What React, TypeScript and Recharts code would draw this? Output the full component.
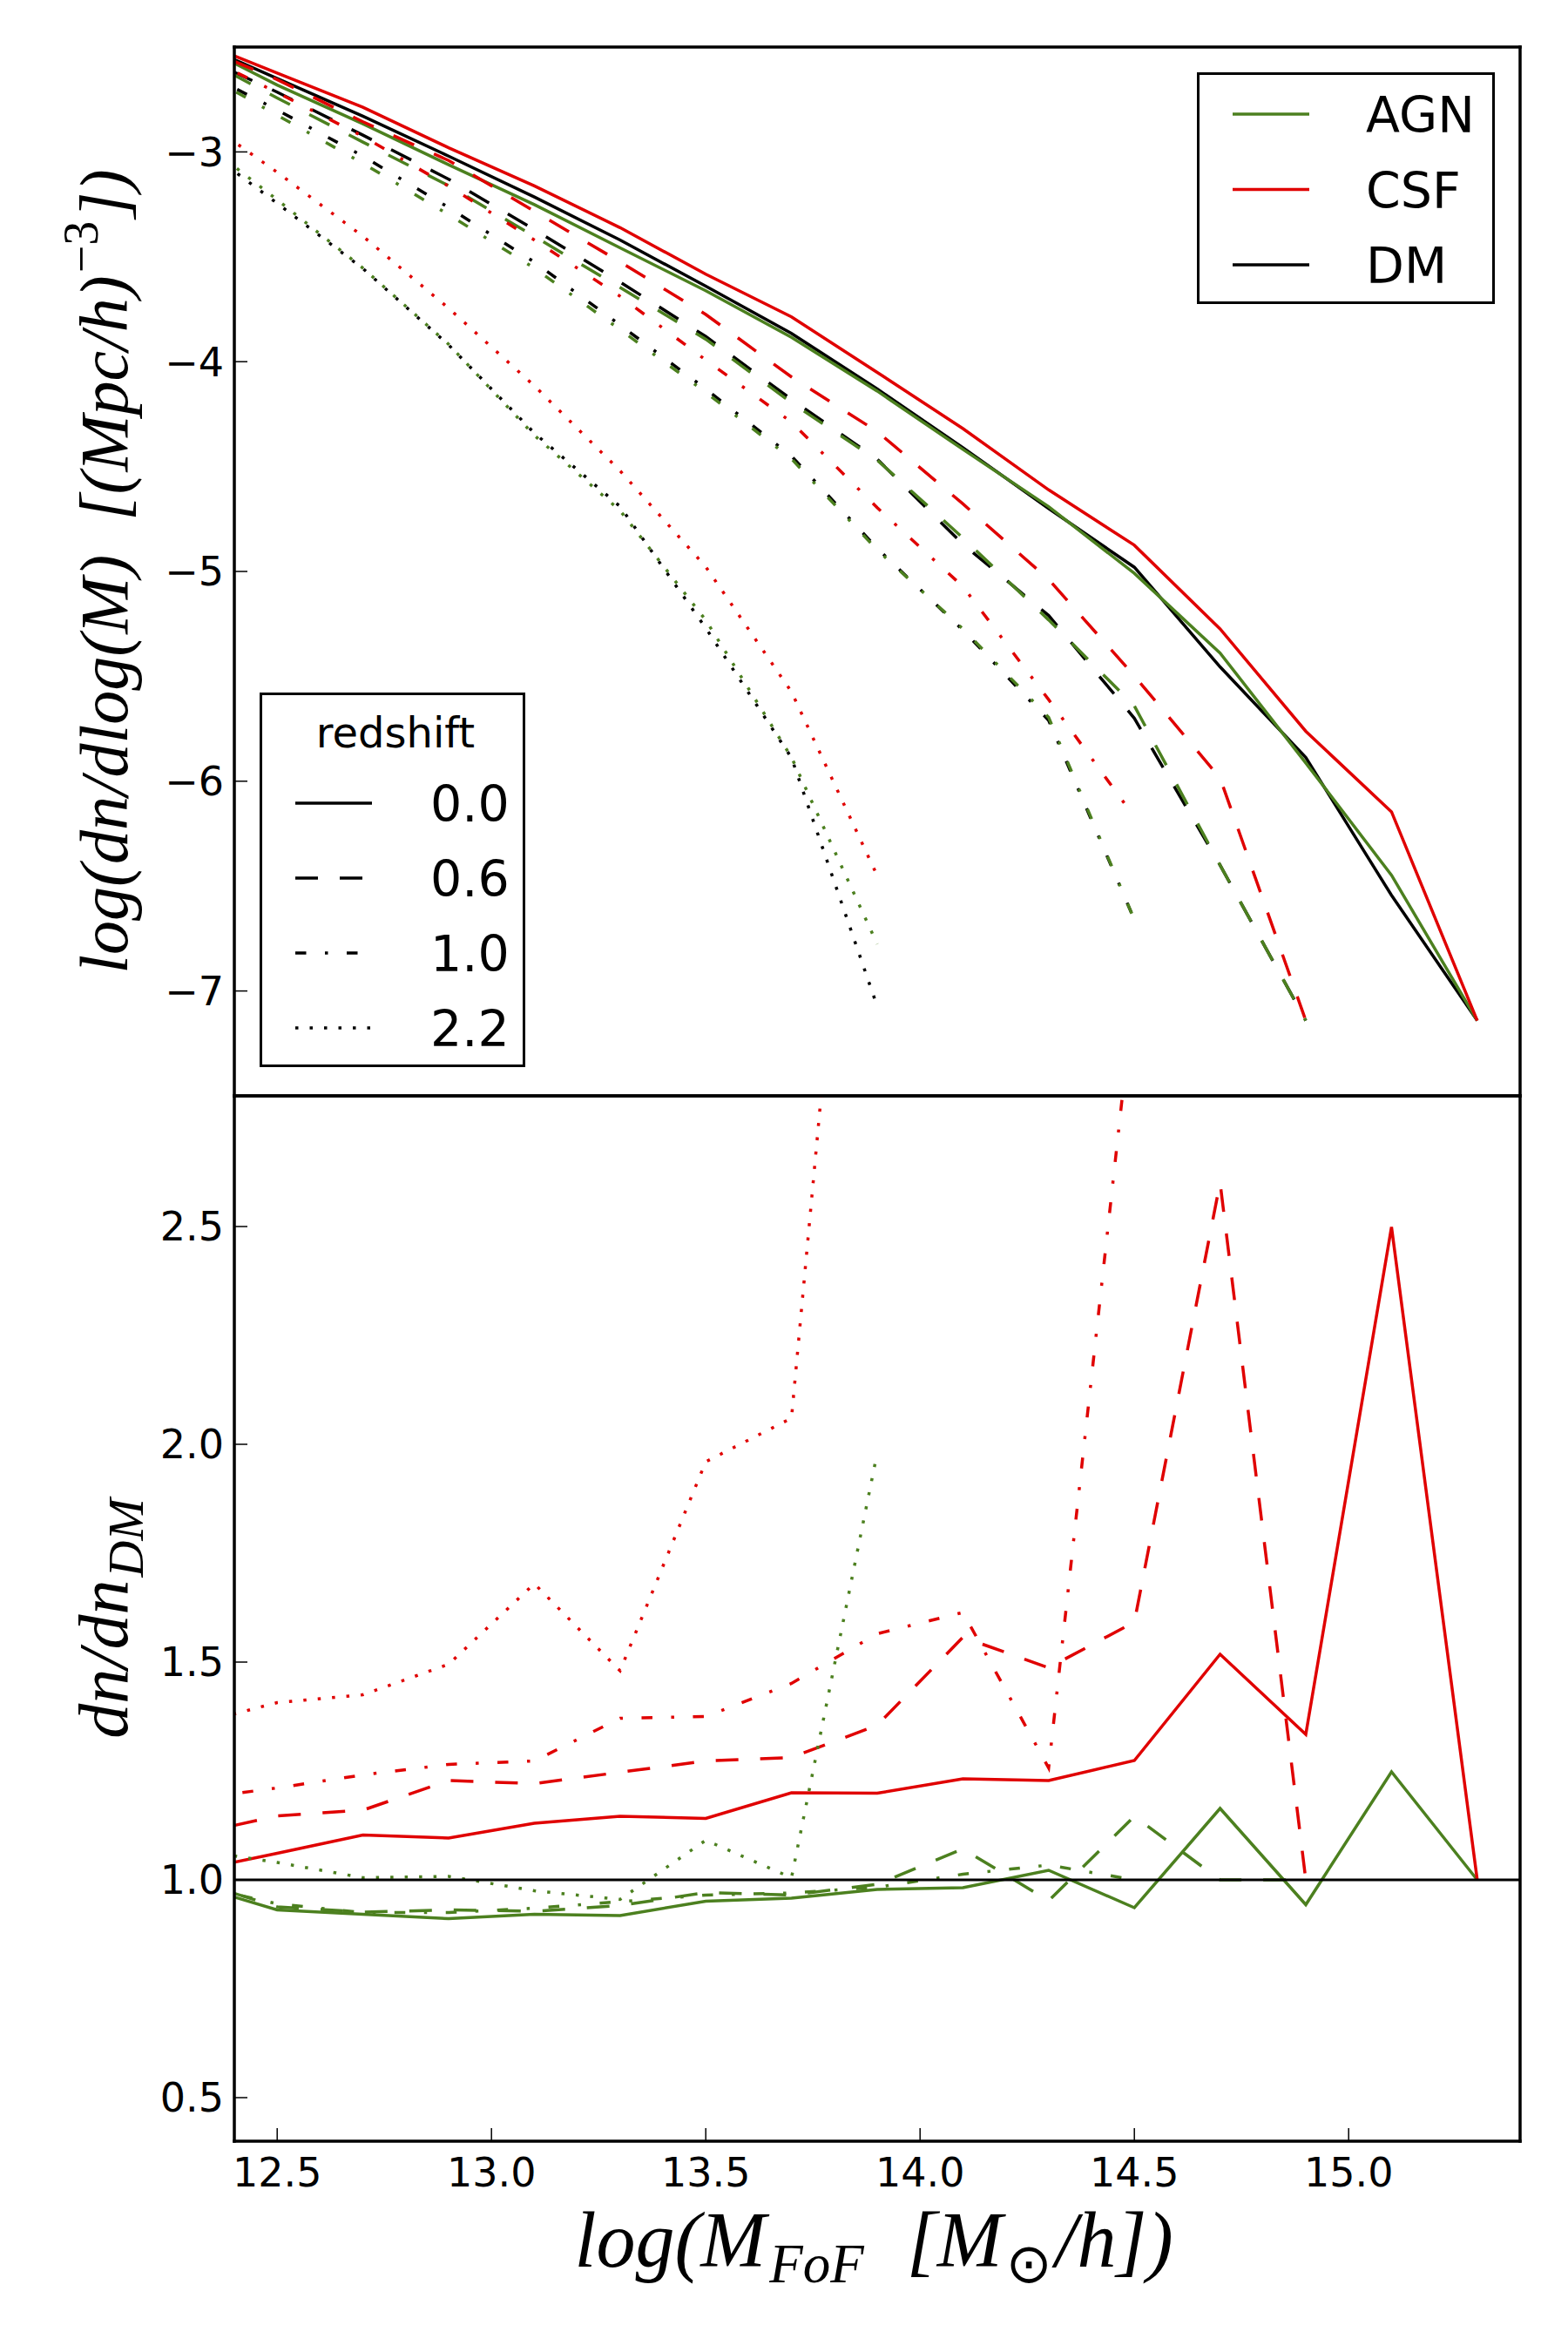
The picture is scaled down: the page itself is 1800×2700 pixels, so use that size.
import React from 'react'
import { LineChart, Line, XAxis, YAxis, ReferenceLine, Legend } from 'recharts'

// halo mass bins, log(M_FoF [Msun/h])
const masses = [12.3, 12.5, 12.7, 12.9, 13.1, 13.3, 13.5, 13.7, 13.9, 14.1, 14.3, 14.5, 14.7, 14.9, 15.1, 15.3]
const massTicks = [12.5, 13.0, 13.5, 14.0, 14.5, 15.0]
const mfTicks = [-7, -6, -5, -4, -3]
const ratioTicks = [0.5, 1.0, 1.5, 2.0, 2.5]

const models = ['AGN', 'CSF', 'DM']
const redshifts = ['0.0', '0.6', '1.0', '2.2']

// upper panel: log(dn/dlog M)
const dmZ0 = [-2.47, -2.65, -2.83, -3.02, -3.215, -3.42, -3.64, -3.865, -4.13, -4.41, -4.7, -4.98, -5.455, -5.887, -6.544, -7.141]
const agnZ0 = [-2.474, -2.681, -2.866, -3.061, -3.251, -3.457, -3.662, -3.884, -4.14, -4.418, -4.691, -5.009, -5.389, -5.913, -6.448, -7.141]
const csfZ0 = [-2.461, -2.624, -2.787, -2.98, -3.162, -3.361, -3.583, -3.786, -4.051, -4.319, -4.611, -4.875, -5.274, -5.762, -6.146, -7.141]

const dmZ06 = [-2.525, -2.715, -2.92, -3.13, -3.37, -3.62, -3.88, -4.18, -4.465, -4.87, -5.21, -5.7, -6.4, -7.141]
const agnZ06 = [-2.525, -2.743, -2.953, -3.161, -3.403, -3.646, -3.893, -4.196, -4.469, -4.84, -5.231, -5.641, -6.4, -7.141]
const csfZ06 = [-2.482, -2.655, -2.856, -3.041, -3.283, -3.524, -3.775, -4.073, -4.333, -4.678, -5.038, -5.498, -5.985, -7.141]

const dmZ1 = [-2.59, -2.8, -3.02, -3.265, -3.525, -3.825, -4.13, -4.45, -4.89, -5.28, -5.71, -6.66]
const agnZ1 = [-2.594, -2.825, -3.054, -3.299, -3.554, -3.847, -4.146, -4.463, -4.897, -5.274, -5.696, -6.66]
const csfZ1 = [-2.516, -2.717, -2.926, -3.163, -3.42, -3.688, -3.992, -4.288, -4.696, -5.072, -5.611, -6.17]

const dmZ22 = [-2.94, -3.245, -3.556, -3.92, -4.34, -4.69, -5.27, -5.888, -7.073]
const agnZ22 = [-2.911, -3.228, -3.554, -3.917, -4.351, -4.71, -5.232, -5.886, -6.776]
const csfZ22 = [-2.808, -3.097, -3.402, -3.745, -4.115, -4.52, -4.978, -5.574, -6.45]

// lower panel: dn/dn_DM
const agnRatioZ0 = [0.99, 0.931, 0.921, 0.911, 0.921, 0.918, 0.951, 0.958, 0.978, 0.982, 1.022, 0.936, 1.164, 0.943, 1.248, 1.0]
const csfRatioZ0 = [1.02, 1.061, 1.103, 1.096, 1.13, 1.146, 1.141, 1.2, 1.199, 1.232, 1.228, 1.274, 1.518, 1.334, 2.499, 1.0]
const agnRatioZ06 = [1.0, 0.938, 0.926, 0.931, 0.928, 0.941, 0.971, 0.965, 0.99, 1.071, 0.952, 1.146, 1.0, 1.0]
const csfRatioZ06 = [1.103, 1.147, 1.16, 1.228, 1.221, 1.247, 1.273, 1.281, 1.355, 1.557, 1.487, 1.592, 2.601, 1.0]
const agnRatioZ1 = [0.99, 0.945, 0.925, 0.925, 0.935, 0.95, 0.965, 0.97, 0.983, 1.013, 1.034, 1.0]
const csfRatioZ1 = [1.185, 1.211, 1.241, 1.265, 1.273, 1.371, 1.375, 1.451, 1.565, 1.614, 1.257, 3.05]
const agnRatioZ22 = [1.07, 1.04, 1.005, 1.008, 0.975, 0.955, 1.091, 1.005, 1.98]
const csfRatioZ22 = [1.355, 1.407, 1.425, 1.495, 1.68, 1.48, 1.96, 2.06, 4.2]

const GREEN = '#4c801f'
const RED = '#e00000'
const BLACK = '#000000'
const modelColors = [GREEN, RED, BLACK]

// matplotlib-like dash patterns, one per redshift
const dashes = [undefined, '26 25', '12.5 21.5 3.5 21.5', '3.5 13']

const topSeries = [
  { key: 'dm0', values: dmZ0, color: BLACK, z: 0 },
  { key: 'agn0', values: agnZ0, color: GREEN, z: 0 },
  { key: 'csf0', values: csfZ0, color: RED, z: 0 },
  { key: 'dm06', values: dmZ06, color: BLACK, z: 1 },
  { key: 'agn06', values: agnZ06, color: GREEN, z: 1 },
  { key: 'csf06', values: csfZ06, color: RED, z: 1 },
  { key: 'dm1', values: dmZ1, color: BLACK, z: 2 },
  { key: 'agn1', values: agnZ1, color: GREEN, z: 2 },
  { key: 'csf1', values: csfZ1, color: RED, z: 2 },
  { key: 'dm22', values: dmZ22, color: BLACK, z: 3 },
  { key: 'agn22', values: agnZ22, color: GREEN, z: 3 },
  { key: 'csf22', values: csfZ22, color: RED, z: 3 },
]

const ratioSeries = [
  { key: 'agn0', values: agnRatioZ0, color: GREEN, z: 0 },
  { key: 'csf0', values: csfRatioZ0, color: RED, z: 0 },
  { key: 'agn06', values: agnRatioZ06, color: GREEN, z: 1 },
  { key: 'csf06', values: csfRatioZ06, color: RED, z: 1 },
  { key: 'agn1', values: agnRatioZ1, color: GREEN, z: 2 },
  { key: 'csf1', values: csfRatioZ1, color: RED, z: 2 },
  { key: 'agn22', values: agnRatioZ22, color: GREEN, z: 3 },
  { key: 'csf22', values: csfRatioZ22, color: RED, z: 3 },
]

type Series = { key: string; values: number[]; color: string; z: number }

const buildRows = (series: Series[]) =>
  masses.map((m, i) => {
    const row: Record<string, number | undefined> = { m }
    series.forEach((s) => {
      row[s.key] = s.values[i]
    })
    return row
  })

const topRows = buildRows(topSeries)
const ratioRows = buildRows(ratioSeries)

const tickFont = { fill: '#000', fontSize: 46, fontFamily: 'DejaVu Sans' }
const spine = { stroke: '#000', strokeWidth: 3.5, strokeLinecap: 'square' as const }
const tickStroke = { stroke: '#000', strokeWidth: 1.5 }
const minus = (v: number) => (v < 0 ? `\u2212${Math.abs(v)}` : `${v}`)
const oneDecimal = (v: number) => v.toFixed(1)
const mathFont = { fontFamily: 'Liberation Serif', fontStyle: 'italic' as const, fill: '#000' }

const TopYLabel = () => (
  <text x={146} y={656} transform="rotate(-90 146 656)" textAnchor="middle" fontSize={78} {...mathFont}>
    log(dn/dlog(M){'\u00a0\u00a0'}[(Mpc/h)
    <tspan dx={3} dy={-34} fontSize={56} fontStyle="normal">
      {'\u22123'}
    </tspan>
    <tspan dx={3} dy={34}>])</tspan>
  </text>
)

const BottomYLabel = () => (
  <text x={146} y={658} transform="rotate(-90 146 658)" textAnchor="middle" fontSize={80} {...mathFont}>
    dn/dn
    <tspan dx={3} dy={18} fontSize={58}>
      DM
    </tspan>
  </text>
)

const XLabel = () => (
  <text x={1003} y={1402} textAnchor="middle" fontSize={90} {...mathFont}>
    log(M
    <tspan dx={4} dy={18} fontSize={63}>
      FoF
    </tspan>
    <tspan dx={4} dy={-18}>{'\u00a0\u00a0'}[M</tspan>
    <tspan dx={4} dy={18} fontSize={63} fontStyle="normal" fontFamily="DejaVu Sans">
      {'\u2299'}
    </tspan>
    <tspan dx={4} dy={-18}>/h])</tspan>
  </text>
)

function LegendBoxes() {
  return (
    <svg width={1800} height={1258} style={{ display: 'block' }}>
      <rect x={1375.5} y={84.5} width={339} height={263} fill="#fff" stroke="#000" strokeWidth={3} />
      {models.map((name, i) => {
        const y = 131 + i * 86.5
        return (
          <g key={name}>
            <line x1={1415} x2={1503} y1={y} y2={y} stroke={modelColors[i]} strokeWidth={3.5} />
            <text x={1568} y={y + 21} fontSize={57} fontFamily="DejaVu Sans" fill="#000">
              {name}
            </text>
          </g>
        )
      })}
      <rect x={299.5} y={796.5} width={302} height={427} fill="#fff" stroke="#000" strokeWidth={3} />
      <text x={454} y={858} textAnchor="middle" fontSize={48} fontFamily="DejaVu Sans" fill="#000">
        redshift
      </text>
      {redshifts.map((z, i) => {
        const y = 922 + i * 86
        return (
          <g key={z}>
            <line x1={339} x2={427} y1={y} y2={y} stroke="#000" strokeWidth={3.5} strokeDasharray={dashes[i]} />
            <text x={494} y={y + 21} fontSize={57} fontFamily="DejaVu Sans" fill="#000">
              {z}
            </text>
          </g>
        )
      })}
    </svg>
  )
}

const renderLines = (series: Series[]) =>
  series.map((s) => (
    <Line
      key={s.key}
      type="linear"
      dataKey={s.key}
      stroke={s.color}
      strokeWidth={3.5}
      strokeDasharray={dashes[s.z]}
      dot={false}
      activeDot={false}
      isAnimationActive={false}
    />
  ))

export default function App() {
  return (
    <div style={{ position: 'absolute', left: 0, top: 0, width: 1800, height: 2700, background: '#fff' }}>
      <div style={{ position: 'absolute', left: 0, top: 0 }}>
        <LineChart width={1800} height={1278} data={topRows} margin={{ top: 53, right: 54, bottom: 0, left: 0 }}>
          <XAxis
            dataKey="m"
            type="number"
            domain={[12.4, 15.4]}
            ticks={massTicks}
            allowDataOverflow
            height={20}
            tick={false}
            tickSize={-15}
            tickLine={tickStroke}
            axisLine={spine}
          />
          <XAxis
            xAxisId="top"
            orientation="top"
            dataKey="m"
            type="number"
            domain={[12.4, 15.4]}
            ticks={massTicks}
            allowDataOverflow
            height={1}
            tick={false}
            tickSize={-15}
            tickLine={tickStroke}
            axisLine={spine}
          />
          <YAxis
            type="number"
            domain={[-7.5, -2.5]}
            ticks={mfTicks}
            allowDataOverflow
            width={269}
            tick={tickFont}
            tickFormatter={minus}
            tickSize={-15}
            tickMargin={27}
            tickLine={tickStroke}
            axisLine={spine}
            label={<TopYLabel />}
          />
          <YAxis
            yAxisId="right"
            orientation="right"
            type="number"
            domain={[-7.5, -2.5]}
            ticks={mfTicks}
            allowDataOverflow
            width={1}
            tick={false}
            tickSize={-15}
            tickLine={tickStroke}
            axisLine={spine}
          />
          {renderLines(topSeries)}
          <Legend
            layout="horizontal"
            verticalAlign="middle"
            align="center"
            content={() => <LegendBoxes />}
            wrapperStyle={{ left: 0, top: 0, width: 1800, height: 1258 }}
          />
        </LineChart>
      </div>
      <div style={{ position: 'absolute', left: 0, top: 1200 }}>
        <LineChart width={1800} height={1500} data={ratioRows} margin={{ top: 57, right: 54, bottom: 0, left: 0 }}>
          <XAxis
            dataKey="m"
            type="number"
            domain={[12.4, 15.4]}
            ticks={massTicks}
            allowDataOverflow
            height={242}
            tick={tickFont}
            tickFormatter={oneDecimal}
            tickSize={-15}
            tickMargin={34}
            tickLine={tickStroke}
            axisLine={spine}
            label={<XLabel />}
          />
          <XAxis
            xAxisId="top"
            orientation="top"
            dataKey="m"
            type="number"
            domain={[12.4, 15.4]}
            ticks={massTicks}
            allowDataOverflow
            height={1}
            tick={false}
            tickSize={-15}
            tickLine={tickStroke}
            axisLine={spine}
          />
          <YAxis
            type="number"
            domain={[0.4, 2.8]}
            ticks={ratioTicks}
            allowDataOverflow
            width={269}
            tick={tickFont}
            tickFormatter={oneDecimal}
            tickSize={-15}
            tickMargin={27}
            tickLine={tickStroke}
            axisLine={spine}
            label={<BottomYLabel />}
          />
          <YAxis
            yAxisId="right"
            orientation="right"
            type="number"
            domain={[0.4, 2.8]}
            ticks={ratioTicks}
            allowDataOverflow
            width={1}
            tick={false}
            tickSize={-15}
            tickLine={tickStroke}
            axisLine={spine}
          />
          {renderLines(ratioSeries)}
          <ReferenceLine y={1} stroke="#000" strokeWidth={3} />
        </LineChart>
      </div>
    </div>
  )
}
